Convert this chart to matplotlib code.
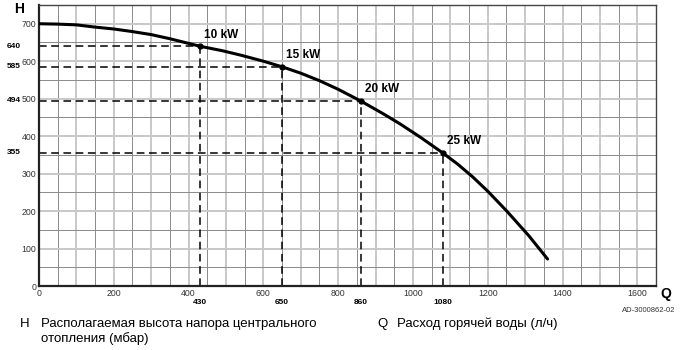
import numpy as np
import matplotlib.pyplot as plt

plt.rcParams['font.family'] = ['Liberation Sans', 'DejaVu Sans']

# pump curve (Q in l/h, H in mbar)
curve_q = [0, 50, 100, 150, 200, 250, 300, 350, 430, 490, 540, 600, 650, 700, 750, 800,
           860, 920, 965, 1020, 1080, 1120, 1160, 1200, 1250, 1310, 1360]
curve_h = [700, 699, 697, 691, 686, 679, 671, 660, 640, 628, 616, 600, 585, 568, 548, 525,
           494, 460, 433, 397, 355, 325, 291, 253, 201, 134, 72]

# operating points
power_labels = ['10 kW', '15 kW', '20 kW', '25 kW']
point_q = [430, 650, 860, 1080]
point_h = [640, 585, 494, 355]

x_ticks = [0, 200, 400, 600, 800, 1000, 1200, 1400, 1600]
y_ticks = [0, 100, 200, 300, 400, 500, 600, 700]

fig = plt.figure(figsize=(6.8, 3.5), dpi=100)
ax = fig.add_axes([39 / 680, 1 - 286 / 350, 617 / 680, 281 / 350])
ax.set_xlim(0, 1650)
ax.set_ylim(0, 750)

# grid: every 50 units, alternating shades
for v in np.arange(50, 1650, 50):
  if v % 100 == 0:
    ax.axvline(v, color='#c8c8c8', lw=1.4, zorder=0)
  else:
    ax.axvline(v, color='#8a8a8a', lw=0.7, zorder=0)
for v in np.arange(50, 750, 50):
  if v % 100 == 0:
    ax.axhline(v, color='#c8c8c8', lw=1.4, zorder=0)
  else:
    ax.axhline(v, color='#8a8a8a', lw=0.7, zorder=0)

ax.plot(curve_q, curve_h, color='black', lw=2.2, solid_capstyle='round',
        solid_joinstyle='round', zorder=3)

for lab, q, h in zip(power_labels, point_q, point_h):
  ax.plot([0, q], [h, h], color='black', lw=1.1, ls=(0, (5, 3)), zorder=2)
  ax.plot([q, q], [0, h], color='black', lw=1.1, ls=(0, (5, 3)), zorder=2)
  ax.plot(q, h, 'o', color='black', ms=3.5, zorder=4)
  ax.annotate(lab, (q, h), xytext=(3, 4), textcoords='offset points',
              fontsize=8.5, fontweight='bold', ha='left', va='bottom')
  # bold value labels outside the axes
  ax.annotate(str(h), xy=(7, h), xycoords=('figure pixels', 'data'),
              fontsize=6, fontweight='bold', ha='left', va='center',
              annotation_clip=False)
  ax.annotate(str(q), xy=(q, 48), xycoords=('data', 'figure pixels'),
              fontsize=6, fontweight='bold', ha='center', va='center',
              annotation_clip=False)

ax.set_xticks(x_ticks)
ax.set_yticks(y_ticks)
ax.tick_params(length=0, labelsize=6.3, labelcolor='#333333', pad=2)

for s in ['left', 'bottom']:
  ax.spines[s].set_linewidth(1.6)
  ax.spines[s].set_color('#222222')
for s in ['top', 'right']:
  ax.spines[s].set_linewidth(1.0)
  ax.spines[s].set_color('#444444')

fig.text(14 / 680, 1 - 9 / 350, 'H', fontsize=10, fontweight='bold', ha='left', va='center')
fig.text(660 / 680, 1 - 294 / 350, 'Q', fontsize=10, fontweight='bold', ha='left', va='center')
fig.text(675 / 680, 1 - 310 / 350, 'AD-3000862-02', fontsize=5.5, color='#333333',
         ha='right', va='center')

fig.text(20 / 680, 1 - 324 / 350, 'H', fontsize=9.5, ha='left', va='center')
fig.text(41 / 680, 1 - 318 / 350, 'Располагаемая высота напора центрального\nотопления (мбар)',
         fontsize=9.5, ha='left', va='top', linespacing=1.25)
fig.text(377 / 680, 1 - 324 / 350, 'Q', fontsize=9.5, ha='left', va='center')
fig.text(397 / 680, 1 - 324 / 350, 'Расход горячей воды (л/ч)', fontsize=9.5, ha='left', va='center')

fig.savefig('out.png', dpi=100)
